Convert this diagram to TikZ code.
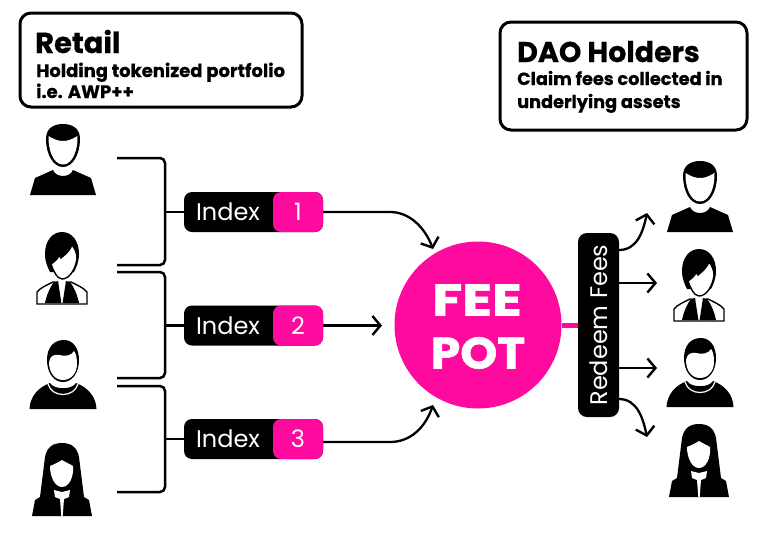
\documentclass[tikz,border=0pt]{standalone}
\usepackage{fontspec}
\setmainfont{Poppins}[BoldFeatures={FakeBold=0.6}]
\newfontfamily\potfont{Poppins}[BoldFeatures={FakeBold=1.5,FakeStretch=1.25}]
\newfontfamily\potfontb{Poppins}[BoldFeatures={FakeBold=1.5,FakeStretch=1.07}]
\usetikzlibrary{arrows.meta}
\definecolor{feepink}{HTML}{FF0A9E}
\tikzset{
  hdr/.style={draw=black,line width=3pt,rounded corners=11pt,fill=white},
  line/.style={draw=black,line width=2.5pt,rounded corners=5pt},
  flow/.style={draw=black,line width=2.3pt,-{Straight Barb[length=8pt,width=19pt,line width=2.4pt]}},
  idxbox/.style={fill=black,rounded corners=8pt,minimum width=139pt,minimum height=40pt,inner sep=0pt},
  numbox/.style={fill=feepink,rounded corners=8pt,minimum width=50pt,minimum height=40pt,inner sep=0pt,text=white,font=\fontsize{24}{24}\selectfont},
  idxlab/.style={text=white,inner sep=0pt,anchor=center,font=\fontsize{24}{24}\selectfont},
  txt/.style={anchor=base west,inner sep=0pt,font=\bfseries\fontsize{#1}{#1}\selectfont},
  pottxt/.style={text=white,inner sep=0pt,font=\potfont\bfseries\fontsize{44}{44}\selectfont},
  pottxtb/.style={text=white,inner sep=0pt,font=\potfontb\bfseries\fontsize{44}{44}\selectfont},
}
\newcommand{\manA}[2]{\begin{scope}[shift={(#1,#2)}]
 \fill (-17,15) .. controls (-17,4) and (-9,0) .. (0,0) .. controls (9,0) and (17,4) .. (17,15) .. controls (17,30) and (10,43) .. (0,43) .. controls (-10,43) and (-17,30) .. (-17,15) -- cycle;
 \fill[white] (-14.5,12) .. controls (-8,16) and (-4,17) .. (0,17) .. controls (4,17) and (8,16) .. (14.5,12) .. controls (15,25) and (10,40.5) .. (0,40.5) .. controls (-10,40.5) and (-15,25) .. (-14.5,12) -- cycle;
 \fill (-33,71) -- (-28,54) -- (-10,46) .. controls (-7,54) and (7,54) .. (10,46) -- (28,54) -- (33,71) -- cycle;
\end{scope}}
\newcommand{\womanA}[2]{\begin{scope}[shift={(#1,#2)}]
 \fill (-17,22) .. controls (-17,8) and (-9,0) .. (0,0) .. controls (10,0) and (17,9) .. (17,22) .. controls (17,30) and (14,36) .. (12,40) -- (-12,40) .. controls (-14,36) and (-17,30) .. (-17,22) -- cycle;
 \filldraw[fill=white,draw=black,line width=1.4pt] (-11,32) .. controls (-7,29) and (-4,27) .. (-3,23) -- (-1,26) .. controls (4,22) and (8,18) .. (10,13) .. controls (13,17) and (15,21) .. (15,26) .. controls (14,36) and (8,47) .. (0,47) .. controls (-5,47) and (-9,38) .. (-11,32) -- cycle;
 \filldraw[fill=white,draw=black,line width=1.4pt] (-25,72) -- (-25,60) .. controls (-22,56) and (-15,53) .. (-9,50) -- (9,50) .. controls (15,53) and (22,56) .. (25,60) -- (25,72) -- cycle;
 \fill[white] (-9,48.5) -- (9,48.5) -- (0,52) -- cycle;
 \fill (-17,71) .. controls (-15,62) and (-12,55) .. (-8,50) -- (-4,49) -- (-0.6,71) -- cycle;
 \fill (17,71) .. controls (15,62) and (12,55) .. (8,50) -- (4,49) -- (0.6,71) -- cycle;
\end{scope}}
\newcommand{\manB}[2]{\begin{scope}[shift={(#1,#2)}]
 \fill (-16,20) .. controls (-16,7) and (-9,0) .. (1,0) .. controls (10,0) and (16,8) .. (16,20) .. controls (16,33) and (9,42) .. (0,42) .. controls (-9,42) and (-16,33) .. (-16,20) -- cycle;
 \fill[white] (-14,22) .. controls (-13,16) and (-9,14) .. (-4,15) .. controls (3,17) and (9,15) .. (11,11) .. controls (13,13) and (14,18) .. (14,24) .. controls (14,33) and (8,40) .. (0,40) .. controls (-8,40) and (-14,33) .. (-14,22) -- cycle;
 \fill (-33.5,69) .. controls (-33,56) and (-24,47) .. (-13,43) .. controls (-9,50) and (9,50) .. (13,43) .. controls (24,47) and (33,56) .. (33.5,69) -- cycle;
 \draw[white,line width=1.2pt] (-15,44) .. controls (-11,58) and (11,58) .. (15,44);
\end{scope}}
\newcommand{\womanB}[2]{\begin{scope}[shift={(#1,#2)}]
 \fill (-17,14) .. controls (-15,4) and (-9,0) .. (0,0) .. controls (9,0) and (15,4) .. (17,14) -- (22,54) -- (27,57) -- (30,73) -- (-30,73) -- (-27,57) -- (-22,54) -- cycle;
 \fill[white] (-12,23) .. controls (-7,21) and (-3,19) .. (0,17) .. controls (3,19) and (8,21) .. (11,23) .. controls (12,34) and (7,44) .. (0,44) .. controls (-7,44) and (-12,34) .. (-12,23) -- cycle;
 \fill[white] (-8,47) -- (0,49) -- (8,47) -- (7,54) -- (2,56) -- (0.7,73) -- (-0.7,73) -- (-2,56) -- (-7,54) -- cycle;
\end{scope}}
\begin{document}
\begin{tikzpicture}[x=1pt,y=-1pt]
\useasboundingbox[fill=white] (0,0) rectangle (770,539);
% header boxes
\draw[hdr] (20,13) rectangle (302,107);
\draw[hdr] (500,22) rectangle (747,130);
\node[txt=29] (rt) at (35,53) {Retail};
\node[txt=18] (rs1) at (36,77) {Holding tokenized portfolio};
\node[txt=18] (rs2) at (36,98) {i.e. AWP++};
\node[txt=28.5] (dt) at (517,62) {DAO Holders};
\node[txt=17.7] (ds1) at (517,85) {Claim fees collected in};
\node[txt=17.7] (ds2) at (517,108) {underlying assets};
% people
\manA{63}{124}
\womanA{62}{232}
\manB{63}{340}
\womanB{62}{443}
\manA{700}{161}
\womanA{699}{249}
\manB{700}{338}
\womanB{699}{424}
% pot
\node[circle,fill=feepink,minimum size=167pt,inner sep=0pt] (pot) at (478,325) {};
\node[pottxt] (fee) at (477,300) {FEE};
\node[pottxtb] (potl) at (478,353) {POT};
% redeem
\node[fill=black,rounded corners=9pt,minimum width=41pt,minimum height=184pt,inner sep=0pt] (red) at (598.5,325) {};
\node[text=white,rotate=90,inner sep=0pt,font=\fontsize{24}{24}\selectfont] (redl) at (598.5,325) {Redeem Fees};
\draw[feepink,line width=5pt] (pot.east) -- (red.west);
% index boxes
\foreach \n/\y in {1/212,2/325.5,3/439}{
  \node[idxbox] (idx\n) at (253.5,\y) {};
  \node[numbox] (num\n) at (298,\y) {\n};
  \node[idxlab] (lab\n) at (228,\y) {Index};
}
% brackets
\coordinate (a1) at (117,158);
\coordinate (a2) at (117,265);
\coordinate (b1) at (117,272);
\coordinate (b2) at (117,378);
\coordinate (c1) at (117,386);
\coordinate (c2) at (117,492);
\draw[line] (a1) -- (165,158) -- (165,265) -- (a2);
\draw[line] (b1) -- (165,272) -- (165,378) -- (b2);
\draw[line] (c1) -- (165,386) -- (165,492) -- (c2);
\draw[line width=2.5pt] (165,212) -- (idx1.west);
\draw[line width=2.5pt] (165,325.5) -- (idx2.west);
\draw[line width=2.5pt] (165,439) -- (idx3.west);
% flows
\coordinate (t1) at (433,249);
\coordinate (t2) at (382,325.5);
\coordinate (t3) at (433,405);
\coordinate (s3) at (323,442);
\draw[flow] (num1.east) -- (390,212) .. controls (410,212) and (425,228) .. (t1);
\draw[flow] (num2.east) -- (t2);
\draw[flow] (s3) -- (390,442) .. controls (410,442) and (425,428) .. (t3);
\coordinate (r1s) at (619,250);
\coordinate (r2s) at (619,283);
\coordinate (r3s) at (619,368);
\coordinate (r4s) at (619,399);
\coordinate (r1) at (647,213);
\coordinate (r2) at (657,283);
\coordinate (r3) at (657,368);
\coordinate (r4) at (647,437);
\draw[flow] (r1s) .. controls (637,250) and (643,232) .. (r1);
\draw[flow] (r2s) -- (r2);
\draw[flow] (r3s) -- (r3);
\draw[flow] (r4s) .. controls (637,399) and (643,418) .. (r4);
\end{tikzpicture}
\end{document}
